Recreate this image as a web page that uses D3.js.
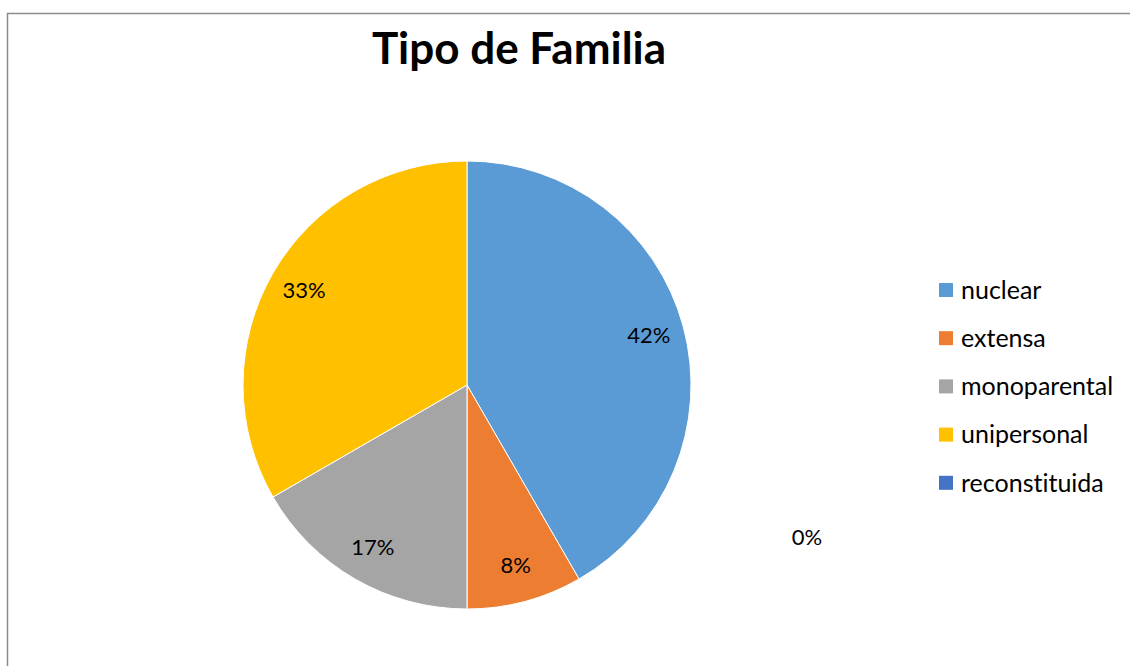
<!DOCTYPE html>
<html>
<head>
<meta charset="utf-8">
<script src="https://cdn.jsdelivr.net/npm/d3@7"></script>
<style>
  body { margin: 0; background: #fff; }
  svg { display: block; font-family: Lato, "Open Sans", "Liberation Sans", sans-serif; font-variant-ligatures: none; }
</style>
</head>
<body>
<svg id="chart" width="1130" height="666"></svg>
<script>
// data: families counted per type (5,1,2,4,0 of 12)
var categories = ["nuclear", "extensa", "monoparental", "unipersonal", "reconstituida"];
var counts = [5, 1, 2, 4, 0];
var colors = ["#5B9BD5", "#ED7D31", "#A5A5A5", "#FFC000", "#4472C4"];
var title = "Tipo de Familia";

var svg = d3.select("#chart");

// chart area frame (runs off right/bottom like the source)
svg.append("rect")
    .attr("x", 7.5).attr("y", 13.5)
    .attr("width", 1140).attr("height", 680)
    .attr("fill", "none").attr("stroke", "#8c8c8c").attr("stroke-width", 1.5);

svg.append("text")
    .attr("x", 519).attr("y", 64)
    .attr("text-anchor", "middle")
    .attr("font-size", 44).attr("font-weight", "bold")
    .attr("fill", "#000")
    .text(title);

var cx = 467, cy = 385, radius = 224;
var total = d3.sum(counts);
var fmt = function(v) { return Math.round(v / total * 100) + "%"; };

var color = d3.scaleOrdinal().domain(categories).range(colors);

var pie = d3.pie().sort(null).value(function(d) { return d.value; });
var rows = categories.map(function(c, i) { return {name: c, value: counts[i]}; });
var arcs = pie(rows);

var arc = d3.arc().innerRadius(0).outerRadius(radius);
var labelArc = d3.arc().innerRadius(radius * 0.84).outerRadius(radius * 0.84);

var g = svg.append("g").attr("transform", "translate(" + cx + "," + cy + ")");

g.selectAll("path")
  .data(arcs.filter(function(d) { return d.value > 0; }))
  .enter().append("path")
    .attr("d", arc)
    .attr("fill", function(d) { return color(d.data.name); })
    .attr("stroke", "#fff")
    .attr("stroke-width", 1);

// data labels; the empty slice's label is pushed out to the right like Excel does
g.selectAll("text.lbl")
  .data(arcs)
  .enter().append("text")
    .attr("class", "lbl")
    .attr("transform", function(d) {
      if (d.value === 0) return "translate(340,153)";
      var p = labelArc.centroid(d);
      return "translate(" + p[0] + "," + p[1] + ")";
    })
    .attr("text-anchor", "middle")
    .attr("dy", "0.3em")
    .attr("font-size", 22)
    .attr("fill", "#000")
    .text(function(d) { return fmt(d.value); });

// legend
var legend = svg.append("g").attr("transform", "translate(939,290)");
var item = legend.selectAll("g")
  .data(categories)
  .enter().append("g")
    .attr("transform", function(d, i) { return "translate(0," + (i * 48.2) + ")"; });

item.append("rect")
    .attr("x", 0).attr("y", -7)
    .attr("width", 14).attr("height", 14)
    .attr("fill", function(d) { return color(d); });

item.append("text")
    .attr("x", 22).attr("dy", "0.35em")
    .attr("font-size", 25)
    .attr("fill", "#000")
    .text(function(d) { return d; });
</script>
</body>
</html>
